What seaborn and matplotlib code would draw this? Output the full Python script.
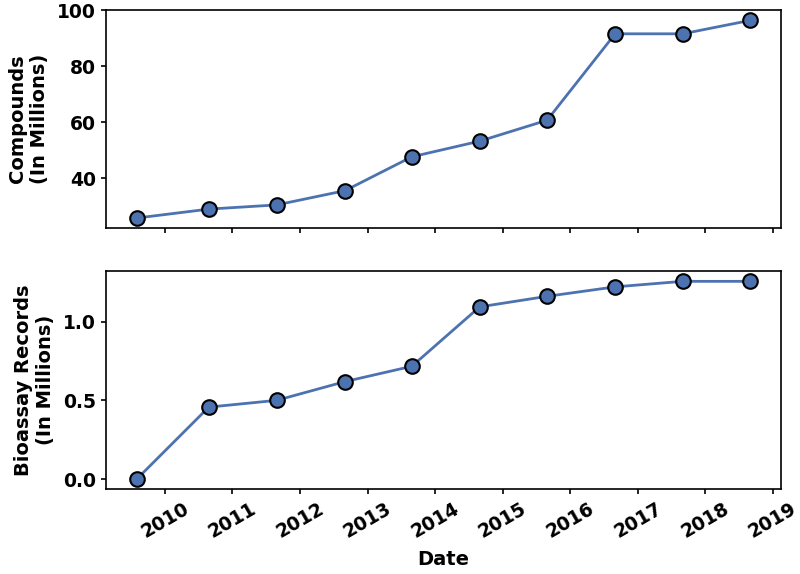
import numpy as np
import pandas as pd
import matplotlib
matplotlib.use('Agg')
import matplotlib.pyplot as plt
import matplotlib.dates as mdates
import seaborn as sns

dates = ['2009-08-01', '2010-08-26', '2011-08-28', '2012-09-01', '2013-08-28',
         '2014-08-30', '2015-08-30', '2016-09-01', '2017-09-01', '2018-09-01']
compounds = [25.7, 28.9, 30.4, 35.5, 47.6, 53.2, 60.7, 91.6, 91.6, 96.4]
bioassays = [0.0, 0.457, 0.50, 0.619, 0.716, 1.093, 1.16, 1.22, 1.255, 1.255]

df = pd.DataFrame({'Date': pd.to_datetime(dates),
                   'Compounds': compounds,
                   'Bioassays': bioassays})

sns.set_style('ticks', {'text.color': 'black', 'axes.labelcolor': 'black',
                        'xtick.color': 'black', 'ytick.color': 'black',
                        'axes.edgecolor': 'black'})
plt.rcParams['font.family'] = ['DejaVu Sans']
plt.rcParams['font.weight'] = 'bold'
plt.rcParams['axes.labelweight'] = 'bold'

fig, (ax1, ax2) = plt.subplots(2, 1, figsize=(8, 5.74), dpi=100, sharex=True)
fig.subplots_adjust(left=0.1325, right=0.976, top=0.982, bottom=0.148, hspace=0.2)

blue = sns.color_palette('deep')[0]
kw = dict(color=blue, marker='o', markersize=10.5, markeredgecolor='black',
          markeredgewidth=1.5, linewidth=2)
sns.lineplot(data=df, x='Date', y='Compounds', ax=ax1, **kw)
sns.lineplot(data=df, x='Date', y='Bioassays', ax=ax2, **kw)

ax1.set_ylabel('Compounds\n(In Millions)', fontsize=14, fontweight='bold', labelpad=6)
ax2.set_ylabel('Bioassay Records\n(In Millions)', fontsize=14, fontweight='bold', labelpad=6)
ax2.set_xlabel('Date', fontsize=14, fontweight='bold', labelpad=6)
ax1.set_xlabel('')

ax1.set_yticks([40, 60, 80, 100])
ax2.set_yticks([0.0, 0.5, 1.0])
ax2.xaxis.set_major_locator(mdates.YearLocator())
ax2.xaxis.set_major_formatter(mdates.DateFormatter('%Y'))

for ax in (ax1, ax2):
    for s in ax.spines.values():
        s.set_visible(True)
        s.set_linewidth(1.2)
    ax.tick_params(labelsize=13.5, width=1.2, colors='black')
    for lab in ax.get_yticklabels():
        lab.set_fontweight('bold')
for lab in ax2.get_xticklabels():
    lab.set_rotation(30)
    lab.set_fontweight('bold')

fig.savefig('out.png', dpi=100)
